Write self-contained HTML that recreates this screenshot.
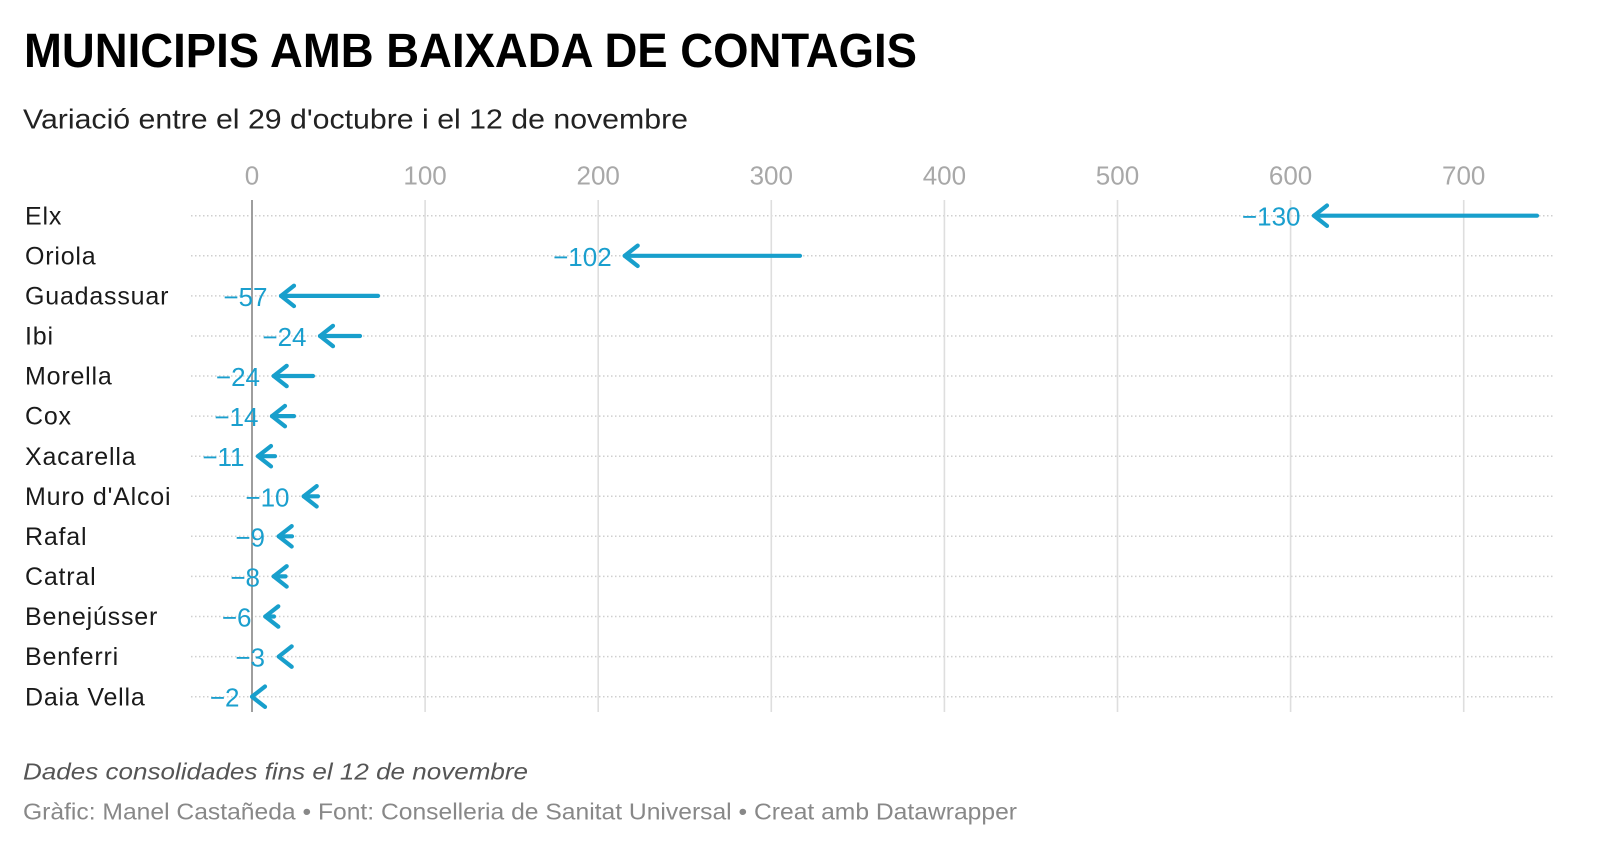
<!DOCTYPE html>
<html>
<head>
<meta charset="utf-8">
<style>
html,body{margin:0;padding:0;background:#fff;}
svg{display:block;}
text{font-family:"Liberation Sans",Arial,sans-serif;}
</style>
</head>
<body>
<svg width="1600" height="849" viewBox="0 0 1600 849" xmlns="http://www.w3.org/2000/svg">
<rect width="1600" height="849" fill="#fff"/>
<!-- Title -->
<text x="24" y="67" font-size="48" font-weight="bold" fill="#000" textLength="893" lengthAdjust="spacingAndGlyphs">MUNICIPIS AMB BAIXADA DE CONTAGIS</text>
<text x="23" y="128.5" font-size="27.5" fill="#222" textLength="665" lengthAdjust="spacingAndGlyphs">Variació entre el 29 d'octubre i el 12 de novembre</text>

<!-- dotted row lines -->
<g stroke="#cfcfcf" stroke-width="1.5" stroke-dasharray="1.5 2.5">
<line x1="191" x2="1553" y1="215.7" y2="215.7"/>
<line x1="191" x2="1553" y1="255.8" y2="255.8"/>
<line x1="191" x2="1553" y1="295.9" y2="295.9"/>
<line x1="191" x2="1553" y1="336" y2="336"/>
<line x1="191" x2="1553" y1="376" y2="376"/>
<line x1="191" x2="1553" y1="416.1" y2="416.1"/>
<line x1="191" x2="1553" y1="456.2" y2="456.2"/>
<line x1="191" x2="1553" y1="496.3" y2="496.3"/>
<line x1="191" x2="1553" y1="536.3" y2="536.3"/>
<line x1="191" x2="1553" y1="576.4" y2="576.4"/>
<line x1="191" x2="1553" y1="616.5" y2="616.5"/>
<line x1="191" x2="1553" y1="656.6" y2="656.6"/>
<line x1="191" x2="1553" y1="696.7" y2="696.7"/>
</g>

<!-- gridlines -->
<g stroke="#dedede" stroke-width="1.6">
<line x1="425.1" x2="425.1" y1="200" y2="712"/>
<line x1="598.2" x2="598.2" y1="200" y2="712"/>
<line x1="771.3" x2="771.3" y1="200" y2="712"/>
<line x1="944.4" x2="944.4" y1="200" y2="712"/>
<line x1="1117.5" x2="1117.5" y1="200" y2="712"/>
<line x1="1290.6" x2="1290.6" y1="200" y2="712"/>
<line x1="1463.7" x2="1463.7" y1="200" y2="712"/>
</g>
<line x1="252" x2="252" y1="200" y2="712" stroke="#9e9e9e" stroke-width="2"/>

<!-- axis labels -->
<g font-size="26" fill="#a8a8a8" text-anchor="middle">
<text x="252" y="184.5">0</text>
<text x="425.1" y="184.5">100</text>
<text x="598.2" y="184.5">200</text>
<text x="771.3" y="184.5">300</text>
<text x="944.4" y="184.5">400</text>
<text x="1117.5" y="184.5">500</text>
<text x="1290.6" y="184.5">600</text>
<text x="1463.7" y="184.5">700</text>
</g>

<!-- row labels -->
<g font-size="25" fill="#1a1a1a" letter-spacing="0.8">
<text x="25" y="224.3">Elx</text>
<text x="25" y="264.4">Oriola</text>
<text x="25" y="304.5">Guadassuar</text>
<text x="25" y="344.6">Ibi</text>
<text x="25" y="384.6">Morella</text>
<text x="25" y="424.7">Cox</text>
<text x="25" y="464.8">Xacarella</text>
<text x="25" y="504.9">Muro d'Alcoi</text>
<text x="25" y="544.9">Rafal</text>
<text x="25" y="585">Catral</text>
<text x="25" y="625.1">Benejússer</text>
<text x="25" y="665.2">Benferri</text>
<text x="25" y="705.3">Daia Vella</text>
</g>

<!-- arrows -->
<g stroke="#189fcc" stroke-width="4.2" stroke-linecap="round" stroke-linejoin="round" fill="none">
<line x1="1314" y1="215.7" x2="1537" y2="215.7"/><polyline points="1327,205.5 1314,215.7 1327,225.9"/>
<line x1="624.7" y1="255.8" x2="800" y2="255.8"/><polyline points="637.7,245.6 624.7,255.8 637.7,266"/>
<line x1="281" y1="295.9" x2="378" y2="295.9"/><polyline points="294,285.7 281,295.9 294,306.1"/>
<line x1="320" y1="336" x2="360" y2="336"/><polyline points="333,325.8 320,336 333,346.2"/>
<line x1="273.7" y1="376" x2="313" y2="376"/><polyline points="286.7,365.8 273.7,376 286.7,386.2"/>
<line x1="272" y1="416.1" x2="294" y2="416.1"/><polyline points="285,405.9 272,416.1 285,426.3"/>
<line x1="258" y1="456.2" x2="275" y2="456.2"/><polyline points="271,446 258,456.2 271,466.4"/>
<line x1="303.7" y1="496.3" x2="318" y2="496.3"/><polyline points="316.7,486.1 303.7,496.3 316.7,506.5"/>
<line x1="278.7" y1="536.3" x2="292" y2="536.3"/><polyline points="291.7,526.1 278.7,536.3 291.7,546.5"/>
<line x1="273.7" y1="576.4" x2="285.5" y2="576.4"/><polyline points="286.7,566.2 273.7,576.4 286.7,586.6"/>
<line x1="265.3" y1="616.5" x2="274" y2="616.5"/><polyline points="278.3,606.3 265.3,616.5 278.3,626.7"/>
<polyline points="291.7,646.4 278.7,656.6 291.7,666.8"/>
<polyline points="265,686.5 252,696.7 265,706.9"/>
</g>

<!-- value labels -->
<g font-size="26" fill="#1a9fce" text-anchor="end">
<text x="1300.5" y="225.7">−130</text>
<text x="611.7" y="265.8">−102</text>
<text x="267.5" y="305.9">−57</text>
<text x="306.5" y="346">−24</text>
<text x="260" y="386">−24</text>
<text x="258.5" y="426.1">−14</text>
<text x="244.5" y="466.2">−11</text>
<text x="289.5" y="506.3">−10</text>
<text x="265" y="546.3">−9</text>
<text x="260" y="586.4">−8</text>
<text x="251.5" y="626.5">−6</text>
<text x="265" y="666.6">−3</text>
<text x="239.5" y="706.7">−2</text>
</g>

<!-- footer -->
<text x="23" y="779.3" font-size="23.5" font-style="italic" fill="#555" textLength="505" lengthAdjust="spacingAndGlyphs">Dades consolidades fins el 12 de novembre</text>
<text x="23" y="819.3" font-size="23.5" fill="#888" textLength="994" lengthAdjust="spacingAndGlyphs">Gràfic: Manel Castañeda • Font: Conselleria de Sanitat Universal • Creat amb Datawrapper</text>
</svg>
</body>
</html>
